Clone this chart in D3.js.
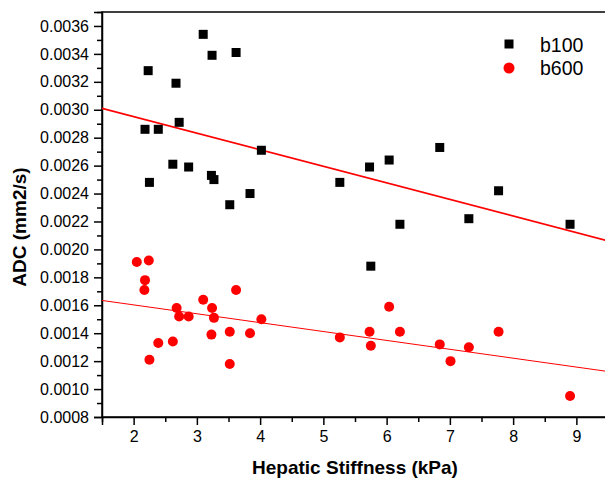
<!DOCTYPE html>
<html>
<head>
<meta charset="utf-8">
<script src="https://cdn.jsdelivr.net/npm/d3@7"></script>
<style>
  body { margin: 0; background: #fff; }
  svg { display: block; font-family: "Liberation Sans", Arial, sans-serif; }
</style>
</head>
<body>
<div id="chart"></div>
<script>
const width = 605;
const height = 479;

// b100 series (squares)
const b100Stiffness = [2.23, 2.18, 2.39, 2.25, 2.67, 2.72, 2.62, 2.87, 3.10, 3.24, 3.62, 4.02, 3.23, 3.27, 3.84, 3.52, 5.26, 5.73, 6.04, 6.21, 6.84, 7.77, 7.30, 8.90, 5.75];
const b100ADC = [0.00328, 0.00286, 0.00286, 0.00248, 0.00319, 0.00291, 0.00261, 0.00259, 0.00354, 0.00339, 0.00341, 0.00271, 0.00253, 0.00250, 0.00240, 0.00232, 0.00248, 0.00259, 0.00264, 0.00218, 0.00273, 0.00242, 0.00222, 0.00218, 0.00188];

// b600 series (circles)
const b600Stiffness = [2.05, 2.24, 2.18, 2.17, 2.68, 2.72, 2.87, 2.39, 2.62, 2.25, 3.10, 3.24, 3.27, 3.62, 3.23, 3.52, 3.52, 3.84, 4.02, 5.26, 5.73, 5.75, 6.04, 6.21, 6.84, 7.01, 7.30, 7.77, 8.90];
const b600ADC = [0.00191, 0.00192, 0.00178, 0.00171, 0.00158, 0.00152, 0.00152, 0.00133, 0.00134, 0.00121, 0.00164, 0.00158, 0.00151, 0.00171, 0.00139, 0.00141, 0.00118, 0.00140, 0.00150, 0.00137, 0.00141, 0.00131, 0.00159, 0.00141, 0.00132, 0.00120, 0.00130, 0.00141, 0.00095];

// linear fits: [intercept, slope]
const b100Fit = [0.003188, -0.0001186];
const b600Fit = [0.001730, -0.0000636];

const xMajorTicks = [2, 3, 4, 5, 6, 7, 8, 9];
const xMinorTicks = [1.5, 2.5, 3.5, 4.5, 5.5, 6.5, 7.5, 8.5, 9.5];
const yMajorTicks = [0.0008, 0.0010, 0.0012, 0.0014, 0.0016, 0.0018, 0.0020, 0.0022, 0.0024, 0.0026, 0.0028, 0.0030, 0.0032, 0.0034, 0.0036];
const yMinorTicks = [0.0009, 0.0011, 0.0013, 0.0015, 0.0017, 0.0019, 0.0021, 0.0023, 0.0025, 0.0027, 0.0029, 0.0031, 0.0033, 0.0035, 0.0037];

const legendItems = ["b100", "b600"];

const margin = { top: 12, right: -3, bottom: 62, left: 102 };

const svg = d3.select("#chart").append("svg")
    .attr("width", width)
    .attr("height", height);

const xScale = d3.scaleLinear().domain([1.5, 9.5]).range([margin.left, width - margin.right]);
const yScale = d3.scaleLinear().domain([0.0008, 0.0037]).range([height - margin.bottom, margin.top]);

const plotBottom = height - margin.bottom;

// frame
svg.append("rect")
    .attr("x", margin.left)
    .attr("y", margin.top)
    .attr("width", xScale(9.5) - margin.left)
    .attr("height", plotBottom - margin.top)
    .attr("fill", "none")
    .attr("stroke", "#000")
    .attr("stroke-width", 1.5);

// x axis
svg.append("g")
    .attr("transform", `translate(0,${plotBottom})`)
    .call(d3.axisBottom(xScale).tickValues(xMinorTicks).tickSize(5).tickFormat(""))
    .call(g => g.select(".domain").remove())
    .call(g => g.selectAll("line").attr("stroke-width", 1.5));

svg.append("g")
    .attr("class", "x-axis")
    .attr("transform", `translate(0,${plotBottom})`)
    .call(d3.axisBottom(xScale).tickValues(xMajorTicks).tickSize(8).tickPadding(6).tickFormat(d3.format("d")))
    .call(g => g.select(".domain").attr("stroke-width", 1.5))
    .call(g => g.selectAll("line").attr("stroke-width", 1.5))
    .call(g => g.selectAll("text").attr("font-size", "16px").attr("font-family", "Liberation Sans, Arial, sans-serif").attr("fill", "#000"));

// y axis
svg.append("g")
    .attr("transform", `translate(${margin.left},0)`)
    .call(d3.axisLeft(yScale).tickValues(yMinorTicks).tickSize(5).tickFormat(""))
    .call(g => g.select(".domain").remove())
    .call(g => g.selectAll("line").attr("stroke-width", 1.5));

svg.append("g")
    .attr("class", "y-axis")
    .attr("transform", `translate(${margin.left},0)`)
    .call(d3.axisLeft(yScale).tickValues(yMajorTicks).tickSize(8).tickPadding(5).tickFormat(d3.format(".4f")))
    .call(g => g.select(".domain").attr("stroke-width", 1.5))
    .call(g => g.selectAll("line").attr("stroke-width", 1.5))
    .call(g => g.selectAll("text").attr("font-size", "16px").attr("font-family", "Liberation Sans, Arial, sans-serif").attr("fill", "#000"));

// axis titles
svg.append("text")
    .attr("x", 355)
    .attr("y", 474)
    .attr("text-anchor", "middle")
    .style("font-size", "19px")
    .style("font-weight", "bold")
    .text("Hepatic Stiffness (kPa)");

svg.append("text")
    .attr("transform", "rotate(-90)")
    .attr("x", -227)
    .attr("y", 26)
    .attr("text-anchor", "middle")
    .style("font-size", "19px")
    .style("font-weight", "bold")
    .text("ADC (mm2/s)");

// fit lines
svg.append("clipPath").attr("id", "plot-clip")
    .append("rect")
    .attr("x", margin.left)
    .attr("y", margin.top)
    .attr("width", xScale(9.5) - margin.left)
    .attr("height", plotBottom - margin.top);

const fitLine = d3.line().x(d => xScale(d[0])).y(d => yScale(d[1]));
const xDom = xScale.domain();

svg.append("path")
    .attr("clip-path", "url(#plot-clip)")
    .attr("d", fitLine(xDom.map(x => [x, b100Fit[0] + b100Fit[1] * x])))
    .attr("fill", "none")
    .attr("stroke", "#ff0000")
    .attr("stroke-width", 1.6);

svg.append("path")
    .attr("clip-path", "url(#plot-clip)")
    .attr("d", fitLine(xDom.map(x => [x, b600Fit[0] + b600Fit[1] * x])))
    .attr("fill", "none")
    .attr("stroke", "#ff0000")
    .attr("stroke-width", 1);

// points
const b100Data = b100Stiffness.map((x, i) => ({ x, y: b100ADC[i] }));
const b600Data = b600Stiffness.map((x, i) => ({ x, y: b600ADC[i] }));
const sq = 9;

svg.selectAll(".b100").data(b100Data).enter().append("rect")
    .attr("class", "b100")
    .attr("x", d => xScale(d.x) - sq / 2)
    .attr("y", d => yScale(d.y) - sq / 2)
    .attr("width", sq)
    .attr("height", sq)
    .attr("fill", "#000");

svg.selectAll(".b600").data(b600Data).enter().append("circle")
    .attr("class", "b600")
    .attr("cx", d => xScale(d.x))
    .attr("cy", d => yScale(d.y))
    .attr("r", 5)
    .attr("fill", "#ff0000");

// legend
const legend = svg.append("g").attr("transform", "translate(509,44)");

legend.append("rect")
    .attr("x", -sq / 2)
    .attr("y", -sq / 2)
    .attr("width", sq)
    .attr("height", sq)
    .attr("fill", "#000");

legend.append("circle")
    .attr("cx", 0)
    .attr("cy", 24)
    .attr("r", 5.5)
    .attr("fill", "#ff0000");

legend.selectAll(".legend-label").data(legendItems).enter().append("text")
    .attr("class", "legend-label")
    .attr("x", 31)
    .attr("y", (d, i) => 8 + i * 23)
    .style("font-size", "19.5px")
    .text(d => d);
</script>
</body>
</html>
